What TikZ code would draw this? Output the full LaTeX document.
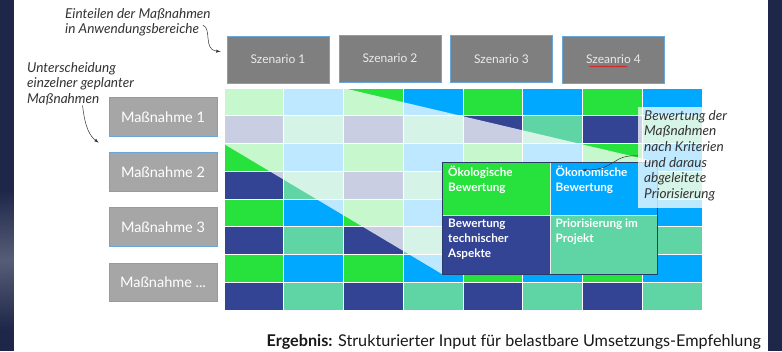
\documentclass[tikz,border=0pt]{standalone}
\usepackage{fontspec}
\setmainfont{Lato}
\usetikzlibrary{positioning,decorations.pathmorphing}

\definecolor{bgnavy}{HTML}{1E2749}
\definecolor{cellc0}{HTML}{27E23D}
\definecolor{cellc1}{HTML}{00A9FF}
\definecolor{cellc2}{HTML}{334494}
\definecolor{cellc3}{HTML}{5FD5A5}
\definecolor{szgray}{HTML}{7F7F7F}
\definecolor{mngray}{HTML}{A6A6A6}
\definecolor{edgeblue}{HTML}{6AA6D6}
\definecolor{notegray}{HTML}{333333}
\definecolor{boxline}{HTML}{2B3A67}

\tikzset{
  szbox/.style={draw=edgeblue, fill=szgray, line width=0.8pt, minimum width=102pt,
    minimum height=47pt, text=white!92!black, font=\fontsize{12}{14}\selectfont},
  mnbox/.style={draw=edgeblue, fill=mngray, line width=0.8pt, minimum width=108pt,
    minimum height=38.5pt, text=white, font=\fontsize{14.5}{16}\selectfont},
  note/.style={font=\itshape\fontsize{13.6}{15.6}\selectfont, align=left, text=notegray,
    inner sep=0pt, anchor=north west},
  notearrow/.style={-latex, line width=0.5pt, draw=notegray},
  evalcell/.style={anchor=north west, draw=white!85!gray, line width=0.6pt,
    minimum width=107.5pt, inner sep=0pt},
  evaltext/.style={anchor=north west, font=\bfseries\fontsize{11.7}{15}\selectfont,
    text=white, align=left, inner sep=0pt}
}

\begin{document}
\begin{tikzpicture}[x=1pt,y=-1pt]
  \useasboundingbox (0,0) rectangle (782,351);
  % background
  \fill[bgnavy] (0,0) rectangle (782,351);
  \shade[top color=bgnavy, bottom color=bgnavy, middle color=bgnavy!75!white] (0,190) rectangle (14,330);
  \fill[white] (14,0) rectangle (768,351);

  % matrix of cells
  \foreach \r in {0,...,7}{
    \foreach \c in {0,...,7}{
      \pgfmathsetmacro\k{int(mod(\r,2)*2+mod(\c,2))}
      \filldraw[fill=cellc\k, draw=white, line width=0.8pt]
        ({224+\c*59.75},{88+\r*27.75}) rectangle +(59.75,27.75);
    }
  }

  % scenarios
  \foreach \i/\x/\y/\t in {1/278/59.5/Szenario 1, 2/390/58.5/Szenario 2,
                           3/501.5/59/Szenario 3, 4/613.5/59.5/Szeanrio 4}
    \node[szbox] (sz\i) at (\x,\y) {\t};
  \draw[red, line width=0.4pt, decorate, decoration={snake, amplitude=0.6pt, segment length=2.2pt}]
    ([xshift=-24pt,yshift=-7pt]sz4.center) -- ([xshift=14pt,yshift=-7pt]sz4.center);

  % measures
  \foreach \i/\y in {1/117, 2/172, 3/227}
    \node[mnbox] (mn\i) at (163,\y) {Maßnahme \i};
  \node[mnbox] (mn4) at (163,282.5) {Maßnahme ...};

  % zoom funnel
  \fill[white, opacity=0.74] (224,88) -- (343,88) -- (657,162) -- (657,274)
    -- (442,274) -- (224,144) -- cycle;

  % evaluation box
  \node[evalcell, fill=cellc0, minimum height=53pt] (oekol) at (442,162) {};
  \node[evalcell, fill=cellc1, minimum height=53pt] (oekon) at (549.5,162) {};
  \node[evalcell, fill=cellc2, minimum height=59pt] (techn) at (442,215) {};
  \node[evalcell, fill=cellc3, minimum height=59pt] (prior) at (549.5,215) {};
  \draw[boxline, line width=1pt] (oekol.north west) rectangle (prior.south east);
  \node[evaltext] at ([xshift=6pt,yshift=-4pt]oekol.north west) {Ökologische\\Bewertung};
  \node[evaltext] at ([xshift=6pt,yshift=-4pt]oekon.north west) {Ökonomische\\Bewertung};
  \node[evaltext] at ([xshift=6pt,yshift=-4pt]techn.north west) {Bewertung\\technischer\\Aspekte};
  \node[evaltext] at ([xshift=6pt,yshift=-4pt]prior.north west) {Priorisierung im\\Projekt};

  % notes
  \fill[white, opacity=0.75] (638,107) rectangle (702,208);
  \node[note] (bewnote) at (644,110)
    {Bewertung der\\Maßnahmen\\nach Kriterien\\und daraus\\abgeleitete\\Priorisierung};
  \coordinate (bewfrom) at (638,156);
  \coordinate (bewto) at (582,170);
  \draw[notearrow] (bewfrom) .. controls (612,154) and (616,170) .. (bewto);

  \node[note] (einteilen) at (65,8) {Einteilen der Maßnahmen\\in Anwendungsbereiche};
  \draw[notearrow] ([xshift=-8pt,yshift=-3pt]einteilen.east) .. controls (212,28) and (203,50)
    .. ([xshift=-6pt,yshift=8pt]sz1.west);

  \node[note] (unterscheid) at (27,62) {Unterscheidung\\einzelner geplanter\\Maßnahmen};
  \draw[notearrow] ([xshift=2pt]unterscheid.south) .. controls (85,128) and (90,136)
    .. ([xshift=-10pt,yshift=-6pt]mn1.south west);

  % result
  \node[anchor=base east, inner sep=0pt, text=black!90, font=\fontsize{16.2}{18}\selectfont]
    (ergebnis) at (761,346) {\textbf{Ergebnis:} Strukturierter Input für belastbare Umsetzungs-Empfehlung};
\end{tikzpicture}
\end{document}
